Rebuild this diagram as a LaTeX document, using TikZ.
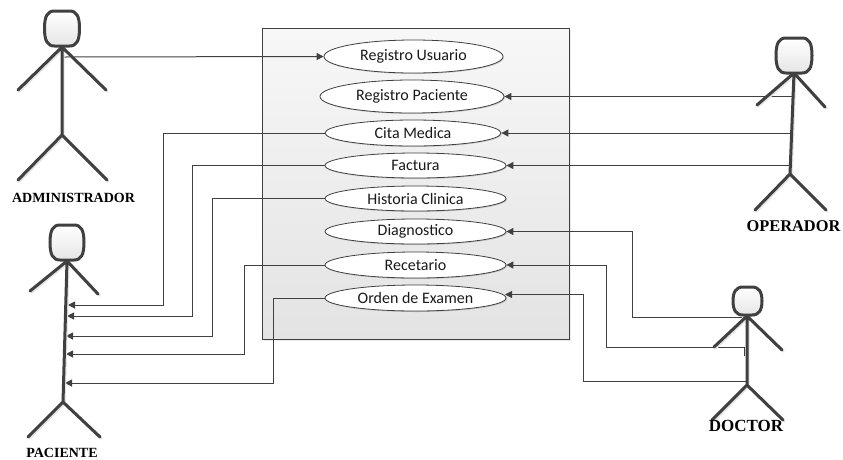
\documentclass[tikz,border=0pt]{standalone}
\usepackage{fontspec}
\setmainfont{Liberation Serif}
\newfontfamily\ucfont{Carlito}
\usetikzlibrary{shapes.geometric,arrows.meta,shadows}
\definecolor{ink}{HTML}{404040}
\tikzset{
 usecase/.style={ellipse,draw=ink,line width=0.8pt,inner sep=0pt,top color=white,bottom color=white,
   font=\ucfont\fontsize{16}{18}\selectfont,text=black!90,
   drop shadow={shadow xshift=1pt,shadow yshift=-1pt,fill=black,opacity=.15}},
 sys/.style={draw=ink,line width=0.8pt,top color=black!3,bottom color=black!11,
   drop shadow={shadow xshift=2pt,shadow yshift=-2pt,fill=black,opacity=.08}},
 actorline/.style={draw=ink,line width=3pt,line cap=round,line join=round},
 actorshade/.style={draw=black!10,line width=3pt,line cap=round,line join=round},
 headfill/.style={draw=ink,line width=3pt,top color=white,bottom color=black!10},
 actorname/.style={font=\bfseries\fontsize{14}{16}\selectfont,text=black,inner sep=0pt},
 link/.style={draw=ink,line width=1pt,-{Triangle[length=7pt,width=7pt]}},
}
\newcommand{\stick}[9]{%
  \draw[actorshade,xshift=1.2pt,yshift=-1.2pt] (#5) -- (#6) (#7) -- (#5) -- (#8) (#9) -- (#6) -- (\legR);
  \draw[actorline] (#5) -- (#6) (#7) -- (#5) -- (#8) (#9) -- (#6) -- (\legR);
  \draw[headfill] (#1-#3/2,#2+#4/2) .. controls (#1-#3/2,#2+5) and (#1-#3/2+3,#2) .. (#1-#3/2+10,#2) -- (#1+#3/2-10,#2) .. controls (#1+#3/2-3,#2) and (#1+#3/2,#2+5) .. (#1+#3/2,#2+#4/2) .. controls (#1+#3/2,#2+#4-5) and (#1+#3/2-3,#2+#4) .. (#1+#3/2-10,#2+#4) -- (#1-#3/2+10,#2+#4) .. controls (#1-#3/2+3,#2+#4) and (#1-#3/2,#2+#4-5) .. (#1-#3/2,#2+#4/2) -- cycle;
}
\begin{document}
\begin{tikzpicture}[x=1pt,y=-1pt]
\useasboundingbox (0,0) rectangle (843,459);
\node[sys,minimum width=307pt,minimum height=311pt,inner sep=0pt] (system) at (415.5,183.5) {};

\node[usecase,minimum width=179pt,minimum height=33pt] (ru) at (413.5,56.5) {Registro Usuario};
\node[usecase,minimum width=184pt,minimum height=33pt] (rp) at (412,96.5) {Registro Paciente};
\node[usecase,minimum width=176pt,minimum height=26pt] (cm) at (413,133) {Cita Medica};
\node[usecase,minimum width=181pt,minimum height=25pt] (fa) at (415.5,165.5) {Factura};
\node[usecase,minimum width=181pt,minimum height=25pt] (hc) at (415.5,198.5) {Historia Clinica};
\node[usecase,minimum width=181pt,minimum height=25pt] (di) at (415.5,231.5) {Diagnostico};
\node[usecase,minimum width=181pt,minimum height=26pt] (re) at (415.5,265) {Recetario};
\node[usecase,minimum width=181pt,minimum height=26pt] (oe) at (415.5,298) {Orden de Examen};

% actor anchors
\coordinate (adm) at (63,57);
\coordinate (pa1) at (68,305); \coordinate (pa2) at (67,316); \coordinate (pa3) at (66,336);
\coordinate (pa4) at (66,354); \coordinate (pa5) at (65,383);
\coordinate (op1) at (792,96.5); \coordinate (op2) at (791,133); \coordinate (op3) at (790,165.5);
\coordinate (do1) at (742,317); \coordinate (do2) at (744,347); \coordinate (do2e) at (744,356); \coordinate (do3) at (747,381);
\coordinate (oetip) at (505,294.5);

% connectors
\draw[link] (adm) -- (ru.west);
\draw[link] (op1) -- (rp.east);
\draw[link] (op2) -- (cm.east);
\draw[link] (op3) -- (fa.east);
\draw[link] (cm.west) -- (163,133) -- (163,305) -- (pa1);
\draw[link] (fa.west) -- (192,165.5) -- (192,316) -- (pa2);
\draw[link] (hc.west) -- (212,198.5) -- (212,336) -- (pa3);
\draw[link] (re.west) -- (244.5,265) -- (244.5,354) -- (pa4);
\draw[link] (oe.west) -- (273,298) -- (273,383) -- (pa5);
\draw[link] (do1) -- (632,317) -- (632,231.5) -- (di.east);
\draw[link] (do2e) -- (do2) -- (606,347) -- (606,265) -- (re.east);
\draw[link] (do3) -- (583,381) -- (583,294.5) -- (oetip);

% actors
\def\legR{107,180}
\stick{62}{11}{35}{35}{62,47}{62,135}{18,90}{106,90}{18,180}
\def\legR{100,437}
\stick{67}{225}{34}{35}{67,261}{63,402}{30,291}{98,294}{28,437}
\def\legR{826,210}
\stick{794}{38}{36}{35}{794,73}{790,174}{757,105}{825,107}{755,210}
\def\legR{783,420}
\stick{747.5}{287}{29}{28}{747,316}{747,385}{714,347}{782,350}{712,420}

\node[actorname] (ladm) at (73.5,198) {ADMINISTRADOR};
\node[actorname] (lpac) at (62,453) {PACIENTE};
\node[actorname,font=\bfseries\fontsize{16.4}{18}\selectfont] (lope) at (793.5,226) {OPERADOR};
\node[actorname,font=\bfseries\fontsize{17}{19}\selectfont] (ldoc) at (746,426) {DOCTOR};
\end{tikzpicture}
\end{document}
